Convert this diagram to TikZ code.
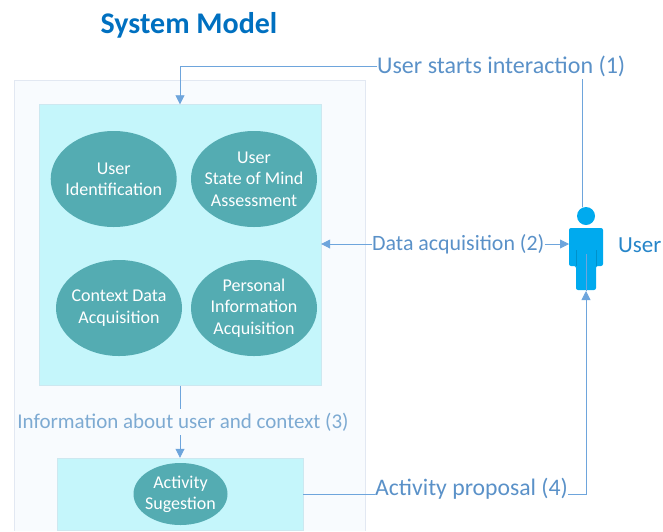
\documentclass[tikz,border=0pt]{standalone}
\usepackage{fontspec}
\setmainfont{Carlito}
\usetikzlibrary{positioning}
\usetikzlibrary{arrows.meta}
\usetikzlibrary{shapes.geometric}
\definecolor{titleblue}{RGB}{0,112,192}
\definecolor{linkblue}{RGB}{110,165,220}
\definecolor{labelblue}{RGB}{90,145,200}
\definecolor{infoblue}{RGB}{125,170,210}
\definecolor{outerfill}{RGB}{248,251,254}
\definecolor{outerline}{RGB}{226,232,242}
\definecolor{innerfill}{RGB}{197,246,251}
\definecolor{innerline}{RGB}{205,232,240}
\definecolor{blobfill}{RGB}{84,172,178}
\definecolor{personblue}{RGB}{0,170,238}
\tikzset{
	blob/.style={ellipse, fill=blobfill, text=white, align=center, inner sep=-8pt, font=\fontsize{18}{21.3}\selectfont},
	panel/.style={rectangle, fill=innerfill, draw=innerline, inner sep=0pt},
	steplabel/.style={inner sep=0pt, text=labelblue, font=\fontsize{24}{28}\selectfont},
	link/.style={draw=linkblue, line width=0.8pt},
	linkarrow/.style={link, -{Triangle[length=9pt,width=9pt]}}
}
\begin{document}
\begin{tikzpicture}[x=1pt,y=1pt]
					\useasboundingbox (0,0) rectangle (663,-531);

					\node[inner sep=0pt, text=titleblue, font=\fontsize{30}{34}\selectfont\bfseries] (title) at (189,-25) {System Model};

					\fill[outerfill] (14.5,-80.5) rectangle (365.5,-531);
					\draw[outerline, line width=0.8pt] (14.5,-531) -- (14.5,-80.5) -- (365.5,-80.5) -- (365.5,-531);

					\node[panel, minimum width=282pt, minimum height=281pt] (sensing) at (180,-245) {};
					\node[panel, minimum width=246pt, minimum height=72pt] (proposing) at (180,-494) {};

					\node[blob, minimum width=126pt, minimum height=96pt] (identify) at (113.7,-179) {User\\Identification};
					\node[blob, minimum width=126pt, minimum height=96pt] (mind) at (254,-179) {User\\State of Mind\\Assessment};
					\node[blob, minimum width=126pt, minimum height=96pt] (context) at (119,-308) {Context Data\\Acquisition};
					\node[blob, minimum width=126pt, minimum height=96pt] (personal) at (254,-308) {Personal\\Information\\Acquisition};
					\node[blob, minimum width=94pt, minimum height=62pt] (activity) at (180.5,-494) {Activity\\Sugestion};

					\node[steplabel, anchor=west] (starts) at (377,-66) {User starts interaction (1)};
					\node[steplabel, font=\fontsize{21.9}{26}\selectfont, anchor=west] (data) at (372,-244) {Data acquisition (2)};
					\node[steplabel, text=infoblue, font=\fontsize{21}{25}\selectfont] (info) at (183,-422) {Information about user and context (3)};
					\node[steplabel, font=\fontsize{23.7}{28}\selectfont, anchor=west] (proposal) at (375,-489) {Activity proposal (4)};

					% user figure
					\node[circle, fill=personblue, minimum size=18pt, inner sep=0pt] (head) at (586,-216) {};
					\fill[personblue, rounded corners=2pt] (569,-228) -- (603,-228) -- (603,-266) -- (596,-266) -- (596,-290) -- (576,-290) -- (576,-266) -- (569,-266) -- cycle;
					\draw[personblue!85!black, line width=0.5pt] (576,-250) -- (576,-266) (596,-250) -- (596,-266);
					\coordinate (body) at (569,-244);
					\coordinate (feet) at (586,-291);
					\node[inner sep=0pt, text=titleblue!85!white, font=\fontsize{23}{27}\selectfont, anchor=west] (user) at (618,-245) {User};

					\draw[linkarrow] (starts.west) -- (180,-66) -- (sensing.north);
					\draw[link] (582,-207) -- (582,-79);
					\draw[linkarrow] (data.west) -- (sensing.east |- data.west);
					\draw[linkarrow] (data.east) -- (body |- data.east);
					\draw[link] (sensing.south) -- (180,-409);
					\draw[linkarrow] (180,-435) -- (proposing.north);
					\draw[link] (proposing.east) -- (proposal.west |- proposing.east);
					\draw[linkarrow] (proposal.east |- proposing.east) -- (586,-494) -- (feet);
					\draw[linkblue, line width=0.5pt] (586,-254) -- (feet);

				\end{tikzpicture}
\end{document}
